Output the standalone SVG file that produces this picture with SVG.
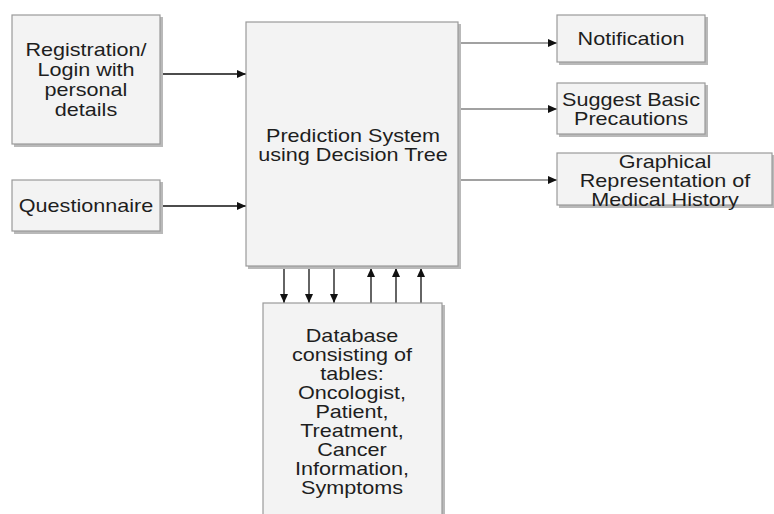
<svg xmlns="http://www.w3.org/2000/svg" width="774" height="514" viewBox="0 0 774 514">
<defs>
<style>
.box{fill:#f3f3f3;stroke:#9a9a9a;stroke-width:1.2}
.sh{fill:#b9b9b9}
.t{font-family:"Liberation Sans",Arial,sans-serif;font-size:18px;fill:#1e1e1e;text-anchor:middle}
.c{stroke:#111;stroke-width:1.3;fill:none;marker-end:url(#ah)}
.cr{stroke:#444;stroke-width:1.1;fill:none;marker-end:url(#ah)}
</style>
<marker id="ah" markerUnits="userSpaceOnUse" markerWidth="10" markerHeight="8" refX="9" refY="4" orient="auto">
<path d="M0,0 L9,4 L0,8 Z" fill="#111"/>
</marker>
</defs>
<rect width="774" height="514" fill="#ffffff"/>
<g id="connectors">
<line class="c" x1="161" y1="74" x2="246" y2="74"/>
<line class="c" x1="161" y1="206" x2="246" y2="206"/>
<line class="cr" x1="459" y1="43" x2="557" y2="43"/>
<line class="cr" x1="459" y1="109" x2="557" y2="109"/>
<line class="cr" x1="459" y1="180" x2="557" y2="180"/>
<line class="c" x1="284" y1="268" x2="284" y2="303"/>
<line class="c" x1="309" y1="268" x2="309" y2="303"/>
<line class="c" x1="334" y1="268" x2="334" y2="303"/>
<line class="c" x1="371" y1="303" x2="371" y2="268"/>
<line class="c" x1="396" y1="303" x2="396" y2="268"/>
<line class="c" x1="421" y1="303" x2="421" y2="268"/>
</g>
<g id="registration">
<rect class="sh" x="14" y="17" width="149" height="130"/>
<rect class="box" x="12" y="15" width="148" height="129"/>
<text class="t" transform="translate(86 0) scale(1.2 1)"><tspan x="0" y="56">Registration/</tspan><tspan x="0" y="76">Login with</tspan><tspan x="0" y="96">personal</tspan><tspan x="0" y="116">details</tspan></text>
</g>
<g id="questionnaire">
<rect class="sh" x="14" y="182" width="149" height="52"/>
<rect class="box" x="12" y="180" width="148" height="51"/>
<text class="t" transform="translate(86 0) scale(1.2 1)" x="0" y="212">Questionnaire</text>
</g>
<g id="prediction">
<rect class="sh" x="248" y="24" width="213" height="245"/>
<rect class="box" x="246" y="22" width="212" height="244"/>
<text class="t" transform="translate(353 0) scale(1.2 1)"><tspan x="0" y="142">Prediction System</tspan><tspan x="0" y="161">using Decision Tree</tspan></text>
</g>
<g id="notification">
<rect class="sh" x="559" y="17" width="149" height="48"/>
<rect class="box" x="557" y="15" width="148" height="47"/>
<text class="t" transform="translate(631 0) scale(1.2 1)" x="0" y="45">Notification</text>
</g>
<g id="precautions">
<rect class="sh" x="559" y="85" width="149" height="52"/>
<rect class="box" x="557" y="83" width="148" height="51"/>
<text class="t" transform="translate(631 0) scale(1.2 1)"><tspan x="0" y="106">Suggest Basic</tspan><tspan x="0" y="125">Precautions</tspan></text>
</g>
<g id="graphical">
<rect class="sh" x="559" y="155" width="216" height="53"/>
<rect class="box" x="557" y="153" width="215" height="52"/>
<text class="t" transform="translate(665 0) scale(1.2 1)"><tspan x="0" y="168">Graphical</tspan><tspan x="0" y="187">Representation of</tspan><tspan x="0" y="206">Medical History</tspan></text>
</g>
<g id="database">
<rect class="sh" x="265" y="305" width="180" height="215"/>
<rect class="box" x="263" y="303" width="179" height="215"/>
<text class="t" transform="translate(352 0) scale(1.2 1)"><tspan x="0" y="342">Database</tspan><tspan x="0" y="361">consisting of</tspan><tspan x="0" y="380">tables:</tspan><tspan x="0" y="399">Oncologist,</tspan><tspan x="0" y="418">Patient,</tspan><tspan x="0" y="437">Treatment,</tspan><tspan x="0" y="456">Cancer</tspan><tspan x="0" y="475">Information,</tspan><tspan x="0" y="494">Symptoms</tspan></text>
</g>
</svg>
